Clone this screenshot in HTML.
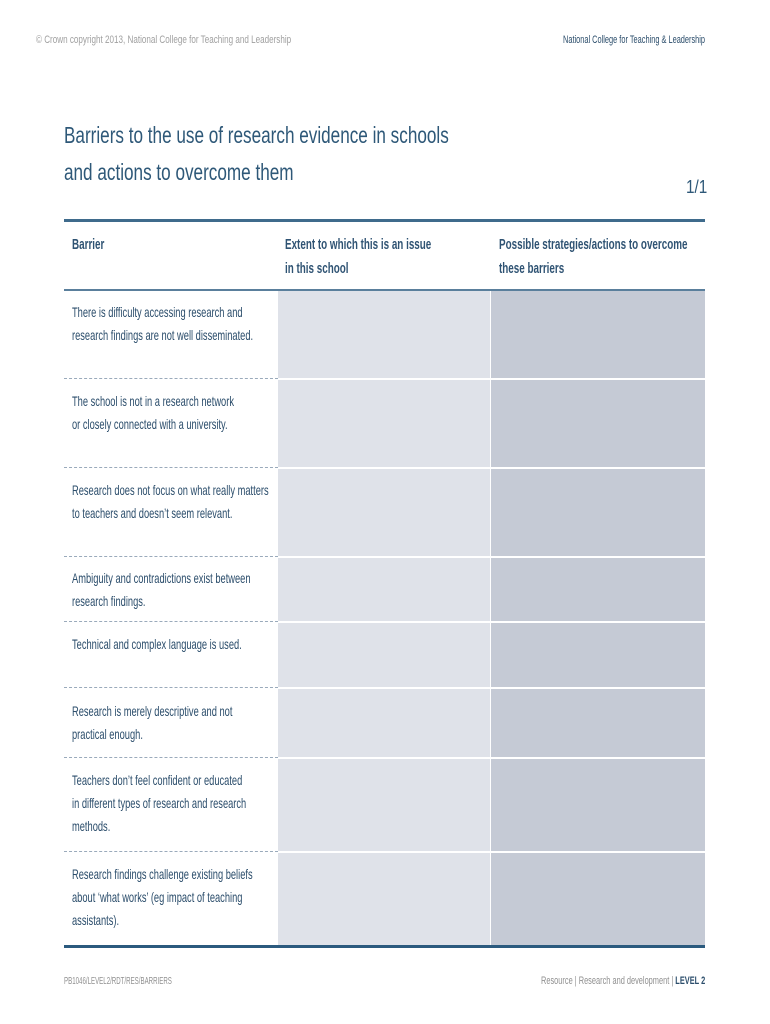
<!DOCTYPE html>
<html><head><meta charset="utf-8"><style>
body{margin:0;width:770px;height:1024px;background:#fff;position:relative;overflow:hidden;font-family:"Liberation Sans Narrow","Liberation Sans",sans-serif;color:#2b4d6b}
.a{position:absolute;white-space:nowrap;transform-origin:0 0}
.t{font-size:14px;line-height:23px;transform:scaleX(0.665)}
.h{font-size:14.5px;line-height:24px;transform:scaleX(0.68);font-weight:bold;color:#2f5373}
.c2{position:absolute;left:278px;width:212px;background:#dfe2e9}
.c3{position:absolute;left:491px;width:214px;background:#c5cad5}
.sep{position:absolute;left:64px;width:214px;border-top:1px dashed #9aaabb}
</style></head><body>
<div class="a" style="left:36px;top:34px;font-size:11px;color:#a0a0a0;transform:scaleX(0.736)">© Crown copyright 2013, National College for Teaching and Leadership</div>
<div class="a" style="left:563px;top:34px;font-size:11px;color:#2b4d6b;transform:scaleX(0.672)">National College for Teaching &amp; Leadership</div>
<div class="a" style="left:64px;top:117px;font-size:23px;line-height:37px;color:#2e5878;transform:scaleX(0.745)">Barriers to the use of research evidence in schools<br>and actions to overcome them</div>
<div class="a" style="left:686px;top:177px;font-size:18px;color:#2e5878;transform:scaleX(0.85)">1/1</div>
<div style="position:absolute;left:64px;top:219px;width:641px;height:3px;background:#3f6b8c"></div>
<div class="a h" style="left:72px;top:233px">Barrier</div>
<div class="a h" style="left:285px;top:233px">Extent to which this is an issue<br>in this school</div>
<div class="a h" style="left:499px;top:233px">Possible strategies/actions to overcome<br>these barriers</div>
<div style="position:absolute;left:64px;top:289px;width:641px;height:2px;background:#5a7f9c"></div>

<div class="c2" style="top:291px;height:87px"></div><div class="c3" style="top:291px;height:87px"></div>
<div class="c2" style="top:380px;height:87px"></div><div class="c3" style="top:380px;height:87px"></div>
<div class="c2" style="top:469px;height:87px"></div><div class="c3" style="top:469px;height:87px"></div>
<div class="c2" style="top:558px;height:63px"></div><div class="c3" style="top:558px;height:63px"></div>
<div class="c2" style="top:623px;height:64px"></div><div class="c3" style="top:623px;height:64px"></div>
<div class="c2" style="top:689px;height:68px"></div><div class="c3" style="top:689px;height:68px"></div>
<div class="c2" style="top:759px;height:92px"></div><div class="c3" style="top:759px;height:92px"></div>
<div class="c2" style="top:853px;height:92px"></div><div class="c3" style="top:853px;height:92px"></div>

<div class="sep" style="top:378px"></div>
<div class="sep" style="top:467px"></div>
<div class="sep" style="top:556px"></div>
<div class="sep" style="top:621px"></div>
<div class="sep" style="top:687px"></div>
<div class="sep" style="top:757px"></div>
<div class="sep" style="top:851px"></div>

<div class="a t" style="left:72px;top:301px">There is difficulty accessing research and<br>research findings are not well disseminated.</div>
<div class="a t" style="left:72px;top:390px">The school is not in a research network<br>or closely connected with a university.</div>
<div class="a t" style="left:72px;top:479px">Research does not focus on what really matters<br>to teachers and doesn’t seem relevant.</div>
<div class="a t" style="left:72px;top:567px">Ambiguity and contradictions exist between<br>research findings.</div>
<div class="a t" style="left:72px;top:633px">Technical and complex language is used.</div>
<div class="a t" style="left:72px;top:700px">Research is merely descriptive and not<br>practical enough.</div>
<div class="a t" style="left:72px;top:769px">Teachers don’t feel confident or educated<br>in different types of research and research<br>methods.</div>
<div class="a t" style="left:72px;top:863px">Research findings challenge existing beliefs<br>about ‘what works’ (eg impact of teaching<br>assistants).</div>

<div style="position:absolute;left:64px;top:945px;width:641px;height:3px;background:#2b5a7e"></div>
<div class="a" style="left:64px;top:975px;font-size:10.5px;color:#909090;transform:scaleX(0.585)">PB1046/LEVEL2/RDT/RES/BARRIERS</div>
<div class="a" style="left:541px;top:975px;font-size:11px;color:#909090;transform:scaleX(0.673)">Resource | Research and development | <b style="color:#2b4d6b">LEVEL 2</b></div>
</body></html>
